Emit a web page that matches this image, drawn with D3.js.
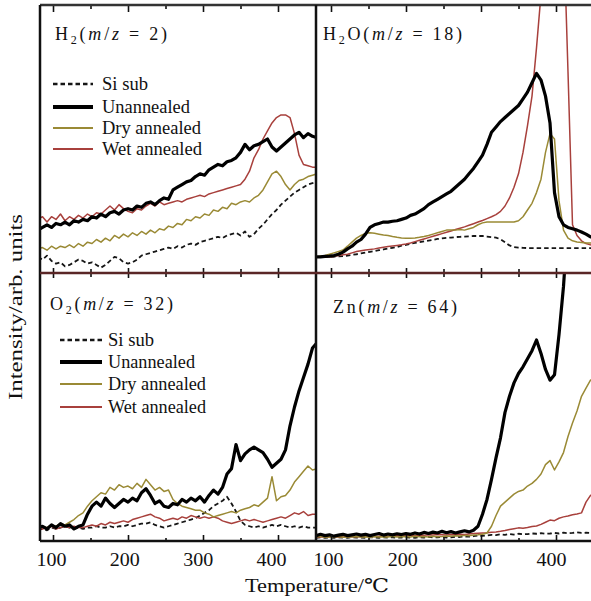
<!DOCTYPE html>
<html>
<head>
    <meta charset="UTF-8">
    <title>Thermal desorption spectra</title>
    <script src="https://d3js.org/d3.v7.min.js"></script>
    <style>
        body { margin: 0; background: #fff; }
        svg text { font-family: "Liberation Serif", "DejaVu Serif", serif; fill: #111; }
    </style>
</head>
<body>
<svg id="chart"></svg>
<script>
    // temperature grid (deg C) shared by every trace
    const temps = [80,86,92,98,104,110,116,122,128,134,
                   140,146,152,158,164,170,176,182,188,194,
                   200,206,212,218,224,230,236,242,248,254,
                   260,266,272,278,284,290,296,302,308,314,
                   320,326,332,338,344,350,356,362,368,374,
                   380,386,392,398,404,410,416,422,428,434,
                   440,446,452];

    const seriesNames = ["Si sub", "Unannealed", "Dry annealed", "Wet annealed"];
    const tickTemps = [100, 200, 300, 400];
    const minorTemps = [150, 250, 350];

    // panel labels: species + m/z
    const speciesMain = ["H", "H", "O", "Zn"];
    const speciesSub = ["2", "2", "2", ""];
    const speciesTail = ["", "O", "", ""];
    const massCharge = [2, 18, 32, 64];

    // ---- H2 (m/z = 2), arb. units 0-100 ----
    const h2Si = [6,5,6.5,4.5,3.5,4,2.5,3,4,5,
        4.5,3.5,4,3,2,3,4.5,6,5.5,4,
        3.5,4,5,6.5,7,7.5,8,8.5,9,9.5,
        9,10,9.5,10.5,11,10.5,11.5,12,12.5,13,
        13.5,13,14,14.5,15,14,15.5,13.5,14.5,16.5,
        18,20,22,23.5,25.5,27,28.5,30,31,32,
        33,33.5,34];
    const h2Unann = [16,17,18,17,18.5,18,19,18,19.5,19,
        20,19.5,21,20.5,22,21,22.5,23,22,23.5,
        24,23.5,25,24.5,26,26.5,25.5,27,28,27.5,
        31,32,33,34,34.5,36,37,36.5,38.5,39.5,
        40.5,40,41.5,42,43,45,48,46,47.5,48,
        49,50,47,45.5,47,48.5,50,51.5,52.5,50.5,
        52,51,50.5];
    const h2Dry = [9,9.5,8.5,10,9,10,9.5,10.5,9.5,11,
        10,11.5,11,12.5,11.5,13,12,14,13,14.5,
        13.5,15,14,15.5,14.5,16,15,16.5,16,17.5,
        17,18.5,18,20,19.5,21,20.5,22,21.5,23.5,
        23,24.5,24,26,25.5,26.5,27,26.5,28,29,
        31,34,37,38,36,33,31,33,34.5,35,
        36,36.5,37];
    const h2Wet = [20,21,19,21,20,22,19.5,21,20,21.5,
        20.5,22,21,22.5,22,23.5,25,23.5,25.5,24,
        23,22.5,24,23.5,25,26,25,26.5,25.5,26,
        26.5,27,26.5,27.5,28,28.5,29,28.5,29.5,30,
        30.5,31,31.5,32,32.5,33,35,38,43,46,
        50,53,56,58,59,59,58,52,44,40.5,
        40,39.5,39.5];

    // ---- H2O (m/z = 18) ----
    const h2oSi = [6,6,6,6.1,6.1,6.2,6.3,6.5,6.8,7,
        7.3,7.6,7.9,8.2,8.5,8.8,9.1,9.4,9.7,10.2,
        10.5,10.9,11.2,11.5,11.8,12.1,12.4,12.7,12.9,13.1,
        13.2,13.4,13.5,13.6,13.7,13.8,13.8,13.8,13.6,13.4,
        13.2,12.6,11.5,10.3,9.7,9.5,9.4,9.3,9.3,9.3,
        9.3,9.3,9.3,9.3,9.3,9.3,9.3,9.3,9.3,9.3,
        9.3,9.3,9.3];
    const h2oUnann = [6,6,6.2,6.3,6.5,7,7.8,9,10,11.5,
        12.5,14.5,17,18,18.5,19,19,19.3,19.5,20,
        20.5,21.5,22,23,24,25.5,26.5,27.5,28.5,29.5,
        30.5,32,33.5,35,37,39,41.5,44,48,52.5,
        54.5,56.5,58,59.5,61,62.5,65,67.5,71,74.5,
        72,66,56,30,21,18,17,16.5,16,15.3,
        14.5,13.5,13];
    const h2oDry = [6,6.3,6.5,7,7.5,8,8.6,10,11.5,13,
        14,14.8,15,14.8,14.5,14.2,14,13.6,13.3,13.1,
        13,13,13.1,13.3,13.6,14,14.5,15,15.5,16,
        16,16,16.2,16,16.5,17,18,18.7,19,19,
        19,19,19,19,19,19.5,21,23.5,26,30,
        35,45,52,50,27,16,13,12,11.6,11.4,
        11.2,11.2,11.2];
    const h2oWet = [6,6,6,6,6.2,6.5,6.8,7,7.5,8,
        8.3,8.6,8.8,9,9.3,9.6,9.9,10.1,10.3,10.5,
        10.8,11.2,11.7,12.2,12.7,13.2,13.7,14.2,14.7,15.2,
        15.7,16.2,16.7,17.2,17.8,18.4,19,19.6,20.3,21,
        21.8,23,25,28,32,37,45,55,66,84,
        104,130,140,140,140,130,75,18,14,12,
        11,10.5,10.4];

    // ---- O2 (m/z = 32) ----
    const o2Si = [4,4.5,4,5,4.5,5,5.5,5,4.5,5,
        4.5,5,5,5.5,5,5,5.5,5,5.5,5.5,
        6,5.5,6,6.5,6.5,7,6,5.5,5,5.5,
        6,6.5,7,7.5,8,8.5,9.5,10.5,11.5,13,
        14,15,16.5,14,11,7.5,6,5.5,5,5.5,
        5,5.5,6,5.5,6,5.5,5,5.5,5,5.5,
        5,5,5];
    const o2Unann = [5,5.5,4.5,6,5,6.5,5.5,6,4.5,5.5,
        6,10,13,14.5,13,16,14,12.5,14,15.5,
        14.5,16,15,18,19.5,17,14,15,13,12.5,
        14,13.5,15.5,14.5,16,15,16.5,14.5,17,19,
        17.5,20,25,27,36,30,32.5,34,35,34,
        33,30.5,27.5,29,30.5,34,43,50,56,61,
        66,72,74];
    const o2Dry = [5,5.5,5,6,5.5,6.5,6,7,8,9.5,
        10.5,13,15,16.5,18,17.5,20,19,21,20,
        20.5,19.5,21.5,20,23,21,19,20,18.5,19,
        15.5,14,13,12.5,12,11.5,11.5,10.5,10,9,
        9.5,10,10.5,11,10.5,11.5,12,12.5,13.5,13,
        14.5,16,24,15,16.5,17,19,22,24,26,
        28,26.5,27];
    const o2Wet = [5,4.5,5,5.5,4.5,5,5.5,5,5.5,5,
        5,5.5,6,5.5,6.5,6,7,6.5,7,7.5,
        7,8,8.5,9,9.5,10,9,8.5,7.5,8,
        8.5,8,9,8.5,9.5,9,8.5,9,8.5,9,
        8.5,7.5,7,6.5,7,7.5,8,7.5,8,7.5,
        7,7.5,8,8.5,9,8.5,9.5,10.5,10,11,
        9.5,10,10];

    // ---- Zn (m/z = 64) ----
    const znSi = [1.2,1.4,1.2,1.3,1.2,1.4,1.3,1.2,1.4,1.3,
        1.3,1.2,1.4,1.3,1.2,1.4,1.3,1.4,1.2,1.3,
        1.4,1.3,1.2,1.4,1.3,1.5,1.3,1.4,1.5,1.3,
        1.4,1.6,1.5,1.7,1.6,1.8,2,1.9,2.1,2.3,
        2.2,2.5,2.3,2.6,2.4,2.7,2.5,2.6,2.8,2.7,
        2.9,2.7,2.8,3,2.8,3.1,2.9,3,3.2,3,
        3.1,3,3.2];
    const znUnann = [2,2.5,2,2.3,1.8,2.2,2.5,2,2.3,2.6,
        2.2,2.5,2,2.4,2.8,2.2,2.6,2.3,2.7,2.4,
        2.8,2.5,3,2.6,3.2,2.8,3.3,3,3.6,3.1,
        3.5,3,3.4,3.8,3.4,4,5.5,10,15.5,23,
        31,38.5,48,54,59,62.5,65,68,71,75,
        70,64,60,62,77,95,120,140,140,140,
        140,140,140];
    const znDry = [1.5,1.8,1.4,1.6,1.5,1.7,1.4,1.6,1.5,1.7,
        1.5,1.6,1.4,1.7,1.5,1.6,1.5,1.8,1.5,1.6,
        1.7,1.5,1.8,1.6,1.7,1.5,1.8,1.6,1.7,1.9,
        1.8,2,1.9,2.1,2,2.2,2.3,2.5,3,5.5,
        9.5,13,14.5,16,17.5,18.5,19,20.5,21.5,23,
        25,28.5,30,26.5,29.5,33,39,44,48.5,54,
        57,60,61];
    const znWet = [1.5,1.6,1.5,1.6,1.5,1.6,1.5,1.7,1.6,1.7,
        1.6,1.7,1.8,1.7,1.8,1.9,1.8,1.9,2,1.9,
        2,2.1,2,2.2,2.1,2.3,2.2,2.4,2.3,2.2,
        2.4,2.3,2.5,2.4,2.6,2.8,2.9,3,3.1,3.3,
        3.4,3.6,3.9,4.3,4.6,4.9,4.8,5,5.4,5.6,
        6.2,7,7.8,7.6,8.5,9,9.3,9.8,10.1,10.5,
        14.5,17,18];

    // ---------- layout ----------
    const WIDTH = 591, HEIGHT = 601;
    const SERIF = "'Liberation Serif', 'DejaVu Serif', serif";
    const colRange = [[40, 316], [316, 591]];
    const rowRange = [[5, 273], [273, 541]];

    const xScales = [
        d3.scaleLinear().domain([100, 400]).range([53, 278]),
        d3.scaleLinear().domain([100, 400]).range([331, 556])
    ];
    // printed numbers under the axis sit slightly left of the ticks
    const labelScales = [
        d3.scaleLinear().domain([100, 400]).range([51, 271]),
        d3.scaleLinear().domain([100, 400]).range([328, 551])
    ];
    const yScales = rowRange.map(r => d3.scaleLinear().domain([0, 100]).range([r[1], r[0]]));

    const styles = [
        {color: "#161616", width: 1.8, dash: "4.5,3"},   // Si sub
        {color: "#000000", width: 3.2, dash: null},      // Unannealed
        {color: "#9a8a35", width: 1.5, dash: null},      // Dry annealed
        {color: "#a8403c", width: 1.5, dash: null}       // Wet annealed
    ];
    const drawOrder = [0, 3, 2, 1];

    const panels = [
        {col: 0, row: 0, series: [h2Si, h2Unann, h2Dry, h2Wet], title: {x: 55, y: 40, len: 112},
         legend: {x1: 53, x2: 93, tx: 102, ys: [84, 107, 128, 149], lens: [46, 88, 99, 100]}},
        {col: 1, row: 0, series: [h2oSi, h2oUnann, h2oDry, h2oWet], title: {x: 323, y: 40, len: 139}},
        {col: 0, row: 1, series: [o2Si, o2Unann, o2Dry, o2Wet], title: {x: 50, y: 310, len: 123},
         legend: {x1: 60, x2: 102, tx: 108, ys: [340, 362, 384, 407], lens: [46, 87, 98, 98]}},
        {col: 1, row: 1, series: [znSi, znUnann, znDry, znWet], title: {x: 333, y: 313, len: 124}}
    ];

    const svg = d3.select("#chart")
        .attr("width", WIDTH)
        .attr("height", HEIGHT)
        .style("font-family", SERIF);

    const defs = svg.append("defs");

    panels.forEach(function(p, i) {
        const x = xScales[p.col];
        const y = yScales[p.row];
        const cx = colRange[p.col], cy = rowRange[p.row];

        defs.append("clipPath").attr("id", "clip" + i)
          .append("rect")
            .attr("x", cx[0]).attr("y", cy[0])
            .attr("width", cx[1] - cx[0]).attr("height", cy[1] - cy[0]);

        const g = svg.append("g").attr("clip-path", `url(#clip${i})`);

        const line = d3.line()
            .x((d, j) => x(temps[j]))
            .y(d => y(d));

        drawOrder.forEach(function(s) {
            g.append("path")
                .datum(p.series[s])
                .attr("d", line)
                .attr("fill", "none")
                .attr("stroke", styles[s].color)
                .attr("stroke-width", styles[s].width)
                .attr("stroke-dasharray", styles[s].dash)
                .attr("stroke-linejoin", "round");
        });

        // panel title, e.g. H2(m/z = 2)
        const t = svg.append("text")
            .attr("x", p.title.x).attr("y", p.title.y)
            .attr("font-size", 18)
            .attr("textLength", p.title.len)
            .attr("lengthAdjust", "spacing");
        t.append("tspan").text(speciesMain[i]);
        let shift = 0;
        if (speciesSub[i]) {
            t.append("tspan").attr("font-size", 12).attr("dy", 4).text(speciesSub[i]);
            shift = -4;
        }
        t.append("tspan").attr("dy", shift).text(speciesTail[i] + "(");
        t.append("tspan").attr("font-style", "italic").text("m");
        t.append("tspan").text("/");
        t.append("tspan").attr("font-style", "italic").text("z");
        t.append("tspan").text(" = " + massCharge[i] + ")");

        if (p.legend) {
            const L = p.legend;
            seriesNames.forEach(function(name, s) {
                svg.append("line")
                    .attr("x1", L.x1).attr("x2", L.x2)
                    .attr("y1", L.ys[s]).attr("y2", L.ys[s])
                    .attr("stroke", styles[s].color)
                    .attr("stroke-width", s === 1 ? 3.8 : styles[s].width + 0.5)
                    .attr("stroke-dasharray", styles[s].dash);
                svg.append("text")
                    .attr("x", L.tx).attr("y", L.ys[s] + 6)
                    .attr("font-size", 18)
                    .attr("textLength", L.lens[s])
                    .attr("lengthAdjust", "spacingAndGlyphs")
                    .text(name);
            });
        }
    });

    // ---------- tick marks (inward) ----------
    const addTicks = function(axisFn, scale, ypos, values, size) {
        svg.append("g")
            .attr("transform", `translate(0,${ypos})`)
            .call(axisFn(scale).tickValues(values).tickSize(size).tickFormat(""))
            .call(g => g.select(".domain").remove())
            .selectAll("line").attr("stroke", "#111").attr("stroke-width", 1.6);
    };

    [0, 1].forEach(function(c) {
        const x = xScales[c];
        addTicks(d3.axisTop, x, 5, tickTemps, -7);
        addTicks(d3.axisTop, x, 5, minorTemps, -4);
        addTicks(d3.axisBottom, x, 273, tickTemps, -5);
        addTicks(d3.axisBottom, x, 273, minorTemps, -4);
        addTicks(d3.axisTop, x, 273, tickTemps, -5);
        addTicks(d3.axisTop, x, 273, minorTemps, -4);
        addTicks(d3.axisBottom, x, 541, tickTemps, -6);
        addTicks(d3.axisBottom, x, 541, minorTemps, -3);

        // printed tick numbers
        svg.append("g")
            .attr("transform", "translate(0,541)")
            .call(d3.axisBottom(labelScales[c]).tickValues(tickTemps).tickSize(0).tickPadding(12))
            .call(g => g.select(".domain").remove())
            .attr("font-family", SERIF)
            .attr("font-size", 19)
            .selectAll("text")
              .attr("fill", "#111")
              .attr("textLength", 30)
              .attr("lengthAdjust", "spacingAndGlyphs");
    });

    // ---------- frame ----------
    const frame = [
        {x1: 40, y1: 5, x2: 591, y2: 5, c: "#333"},
        {x1: 40, y1: 5, x2: 40, y2: 541, c: "#111"},
        {x1: 40, y1: 541, x2: 591, y2: 541, c: "#111"},
        {x1: 316, y1: 5, x2: 316, y2: 541, c: "#111"},
        {x1: 40, y1: 273, x2: 591, y2: 273, c: "#5a2626"}
    ];
    svg.selectAll(".frame").data(frame).enter().append("line")
        .attr("class", "frame")
        .attr("x1", d => d.x1).attr("y1", d => d.y1)
        .attr("x2", d => d.x2).attr("y2", d => d.y2)
        .attr("stroke", d => d.c)
        .attr("stroke-width", 2.5);

    // ---------- axis titles ----------
    svg.append("text")
        .attr("x", 317).attr("y", 592)
        .attr("text-anchor", "middle")
        .attr("font-size", 19)
        .attr("textLength", 144)
        .attr("lengthAdjust", "spacingAndGlyphs")
        .text("Temperature/℃");

    svg.append("text")
        .attr("transform", "translate(22,307) rotate(-90)")
        .attr("text-anchor", "middle")
        .attr("font-size", 19)
        .attr("textLength", 186)
        .attr("lengthAdjust", "spacingAndGlyphs")
        .text("Intensity/arb. units");
</script>
</body>
</html>
